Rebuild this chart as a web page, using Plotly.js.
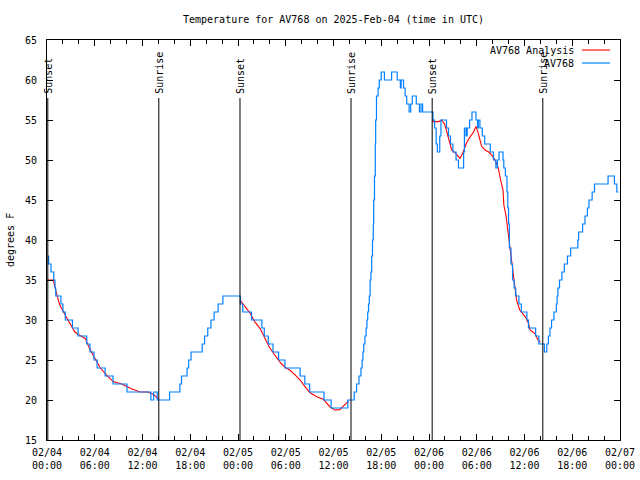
<!DOCTYPE html>
<html>
<head>
<meta charset="utf-8">
<script src="https://cdn.plot.ly/plotly-3.0.1.min.js"></script>
<style>html,body{margin:0;padding:0;background:#fff;}#chart{width:640px;height:480px;}</style>
</head>
<body>
<div id="chart"></div>
<script>
// Hours since 2025-02-04 00:00 UTC
// Observations (AV768), step values
const obsHours = [0,0.2,0.5,0.85,1.0,1.1,1.75,2.0,2.3,3.2,3.9,5.0,5.4,5.9,6.3,7.3,8.3,10.05,13.05,13.4,13.85,15.4,16.7,16.9,17.6,17.8,18.1,19.5,19.8,20.2,20.6,21.0,21.5,22.1,24.3,24.6,25.7,27.0,27.3,27.8,28.4,29.1,29.9,31.8,32.4,33.0,34.8,35.7,37.8,38.6,38.9,39.2,39.45,39.6,39.7,39.8,39.95,40.1,40.2,40.3,40.4,40.5,40.6,40.7,40.8,40.9,41.0,41.05,41.15,41.25,41.3,41.4,41.6,41.75,42.0,42.4,43.3,44.0,44.4,44.5,44.8,45.0,45.2,45.5,45.7,45.9,46.4,46.8,47.0,47.2,48.5,48.7,48.9,49.05,49.35,49.5,50.2,50.45,50.7,51.0,51.4,51.7,52.35,52.45,52.65,52.8,53.1,53.4,53.9,54.1,54.2,54.4,54.7,55.0,55.7,56.1,56.4,56.6,56.8,57.3,57.4,57.6,57.8,57.9,58.0,58.1,58.3,58.5,58.7,58.9,59.3,59.6,60.3,60.5,61.4,61.8,62.5,62.8,63.0,63.2,63.4,63.7,64.0,64.1,64.2,64.4,64.7,65.0,65.4,65.8,66.7,66.8,67.3,67.6,67.9,68.1,68.5,68.8,70.5,71.3,71.6,71.8];
const obsTemps = [38,37,36,35,34,33,32,31,30,29,28,27,26,25,24,23,22,21,20,21,20,21,22,23,24,25,26,27,28,29,30,31,32,33,32,31,30,29,28,27,26,25,24,23,22,21,20,19,20,21,22,23,24,25,26,27,28,29,30,31,32,33,35,36,38,40,42,45,48,52,55,58,59,60,61,60,61,60,59,60,59,58,57,56,57,58,57,56,57,56,55,54,52,51,53,55,54,53,52,51,50,49,51,54,53,54,55,56,55,54,55,54,53,52,51,50,49,50,51,50,49,48,46,44,42,39,37,35,34,33,32,31,30,29,28,27,26,27,28,29,30,31,32,33,34,35,36,37,38,39,40,41,42,43,44,45,46,47,48,47,46,46];

// Analysis (AV768 Analysis), night-time only; null breaks the line
const anaHours = [0,0.8,1.2,1.6,2.3,2.9,3.5,4.1,4.8,5.4,6.0,6.7,7.5,8.3,9.4,10.6,11.7,12.7,13.4,14.0,null,
  24.25,24.9,25.5,26.1,26.8,27.4,28.0,28.65,29.3,29.9,30.5,31.2,31.8,32.4,33.05,33.9,34.7,35.6,36.2,36.8,37.4,37.9,null,
  48.4,48.55,49.2,49.6,50.0,50.3,50.6,50.85,51.3,51.7,51.9,52.3,52.7,53.1,53.6,53.9,54.2,54.6,55.05,55.5,55.9,56.3,56.7,57.0,57.3,57.4,57.7,57.9,58.2,58.6,58.8,59.0,59.4,60.1,60.5,60.7,61.3,61.7,62.0];
const anaTemps = [35,35,33.3,31.9,30.6,29.6,28.5,28.1,27.7,26.3,25.3,24,23.1,22.3,22,21.4,21,21,20.7,20.1,null,
  32.5,31.7,30.9,29.8,28.9,27.7,26.5,25.6,24.7,24.1,23.75,23.1,22.5,21.7,20.9,20.4,20.1,19.1,18.75,18.8,19.4,19.9,null,
  55,54.8,54.8,55,54.4,53.3,52.1,51.25,50.9,50.4,50.2,51,52.1,52.8,53.5,54.2,53.3,51.75,51.25,51,50.6,50,49,47.5,46.25,44.4,42.9,41.25,38.75,36,34.2,32.5,31.25,30.4,29.6,28.75,28.3,27.5,27.2];

// Sunrise / sunset events
const eventHours = [0.1,14.05,24.25,38.2,48.4,62.3];
const eventLabels = ["Sunset","Sunrise","Sunset","Sunrise","Sunset","Sunrise"];

// X tick labels
const tickHours = [0,6,12,18,24,30,36,42,48,54,60,66,72];
const tickLabels = ["02/04<br>00:00","02/04<br>06:00","02/04<br>12:00","02/04<br>18:00","02/05<br>00:00","02/05<br>06:00","02/05<br>12:00","02/05<br>18:00","02/06<br>00:00","02/06<br>06:00","02/06<br>12:00","02/06<br>18:00","02/07<br>00:00"];

const seriesNames = ["AV768 Analysis","AV768"];
const RED = "#ff0000", BLUE = "#0080ff";
const FONT = "DejaVu Sans Mono, Liberation Mono, monospace";
const FS = 10;

const traces = [
  {x: anaHours, y: anaTemps, type: "scatter", mode: "lines", name: seriesNames[0],
   line: {color: RED, width: 1.1}, connectgaps: false, showlegend: false, hoverinfo: "skip"},
  {x: obsHours, y: obsTemps, type: "scatter", mode: "lines", name: seriesNames[1],
   line: {color: BLUE, width: 1.2, shape: "hv"}, showlegend: false, hoverinfo: "skip"}
];

const L = 47, R = 620, T = 40, B = 440;
const px = v => (v - L) / (R - L);
const py = v => (B - v) / (B - T);

const shapes = eventHours.map(h => ({
  type: "line", xref: "x", yref: "paper", x0: h, x1: h, y0: 0, y1: py(98),
  line: {color: "#000", width: 1}
}));
// legend samples
shapes.push({type: "line", xref: "paper", yref: "paper", x0: px(582), x1: px(610), y0: py(50), y1: py(50), line: {color: RED, width: 1.1}});
shapes.push({type: "line", xref: "paper", yref: "paper", x0: px(582), x1: px(610), y0: py(63), y1: py(63), line: {color: BLUE, width: 1.2}});

const annotations = eventHours.map((h, i) => ({
  xref: "x", yref: "paper", x: h, y: py(96), text: eventLabels[i],
  textangle: -90, showarrow: false, xanchor: "center", yanchor: "bottom",
  font: {family: FONT, size: FS, color: "#000"}
}));
annotations.push({xref: "paper", yref: "paper", x: px(576), y: py(50), text: seriesNames[0], showarrow: false, xanchor: "right", yanchor: "middle", font: {family: FONT, size: FS, color: "#000"}});
annotations.push({xref: "paper", yref: "paper", x: px(576), y: py(63), text: seriesNames[1], showarrow: false, xanchor: "right", yanchor: "middle", font: {family: FONT, size: FS, color: "#000"}});
annotations.push({xref: "paper", yref: "paper", x: px(10), y: 0.5, text: "degrees F", textangle: -90, showarrow: false, xanchor: "center", yanchor: "middle", font: {family: FONT, size: FS, color: "#000"}});

const layout = {
  width: 640, height: 480,
  margin: {l: L, r: 640 - R, t: T, b: 480 - B, pad: 0},
  paper_bgcolor: "#fff", plot_bgcolor: "#fff",
  font: {family: FONT, size: FS, color: "#000"},
  title: {text: "Temperature for AV768 on 2025-Feb-04 (time in UTC)", x: 0.5, xref: "paper", y: 1 - 19/480, yref: "container", yanchor: "middle", font: {family: FONT, size: FS, color: "#000"}},
  xaxis: {range: [0, 72], tickmode: "array", tickvals: tickHours, ticktext: tickLabels,
    ticks: "inside", ticklen: 6, tickcolor: "#000", showline: true, linecolor: "#000", linewidth: 1, mirror: "ticks",
    showgrid: false, zeroline: false, ticklabelstandoff: 3,
    minor: {dtick: 2, tick0: 0, ticks: "inside", ticklen: 4, tickcolor: "#000", showgrid: false},
    tickfont: {family: FONT, size: FS, color: "#000"}},
  yaxis: {range: [15, 65], dtick: 5, tick0: 15, ticks: "inside", ticklen: 6, tickcolor: "#000",
    showline: true, linecolor: "#000", linewidth: 1, mirror: "ticks", showgrid: false, zeroline: false,
    ticklabelstandoff: 7, tickfont: {family: FONT, size: FS, color: "#000"}},
  shapes: shapes, annotations: annotations, showlegend: false
};

Plotly.newPlot("chart", traces, layout, {staticPlot: true, displayModeBar: false});
</script>
</body>
</html>
